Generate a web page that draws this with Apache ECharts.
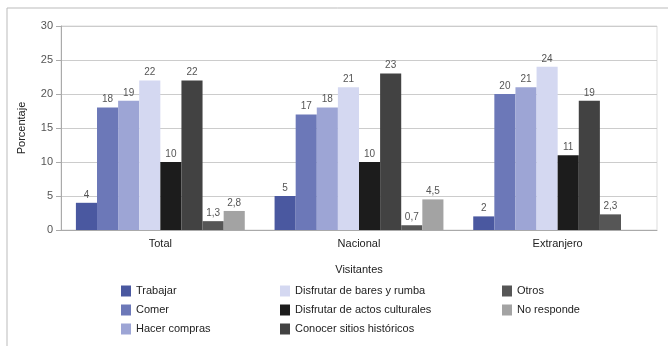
<!DOCTYPE html>
<html>
<head>
<meta charset="utf-8">
<script src="https://cdn.jsdelivr.net/npm/echarts@6/dist/echarts.min.js"></script>
<style>
html, body { margin: 0; padding: 0; background: #fff; }
#main { width: 668px; height: 346px; }
</style>
</head>
<body>
<div id="main"></div>
<script>
// datos
var categorias = ['Total', 'Nacional', 'Extranjero'];
var trabajar = [4, 5, 2];
var comer = [18, 17, 20];
var hacerCompras = [19, 18, 21];
var bares = [22, 21, 24];
var actosCulturales = [10, 10, 11];
var sitiosHistoricos = [22, 23, 19];
var otros = [1.3, 0.7, 2.3];
var noResponde = [2.8, 4.5, null];
var ticksY = [0, 5, 10, 15, 20, 25, 30];

var fuente = 'Liberation Sans, Arial, sans-serif';

function serie(nombre, datos, color) {
	return {
		name: nombre,
		type: 'bar',
		data: datos,
		barGap: 0,
		barCategoryGap: '15%',
		itemStyle: { color: color },
		label: {
			show: true,
			position: 'top',
			distance: 3,
			fontFamily: fuente,
			fontSize: 10,
			color: '#555',
			formatter: function (p) {
				return String(p.value).replace('.', ',');
			}
		}
	};
}

function leyenda(left, nombres) {
	return {
		orient: 'vertical',
		left: left,
		top: 280,
		itemWidth: 10,
		itemHeight: 11,
		itemGap: 7,
		icon: 'rect',
		data: nombres,
		textStyle: { fontFamily: fuente, fontSize: 11, color: '#222', lineHeight: 12 }
	};
}

var chart = echarts.init(document.getElementById('main'));

var option = {
	animation: false,
	graphic: [
		{ type: 'line', shape: { x1: 7, y1: 8, x2: 668, y2: 8 }, style: { stroke: '#bbb', lineWidth: 1 } },
		{ type: 'line', shape: { x1: 7, y1: 8, x2: 7, y2: 346 }, style: { stroke: '#bbb', lineWidth: 1 } }
	],
	grid: {
		left: 61, right: 11, top: 26, bottom: 116,
		show: true, borderColor: '#ddd', borderWidth: 1
	},
	legend: [
		leyenda(116, ['Trabajar', 'Comer', 'Hacer compras']),
		leyenda(275, ['Disfrutar de bares y rumba', 'Disfrutar de actos culturales', 'Conocer sitios históricos']),
		leyenda(497, ['Otros', 'No responde'])
	],
	xAxis: {
		type: 'category',
		data: categorias,
		name: 'Visitantes',
		nameLocation: 'middle',
		nameGap: 34,
		nameTextStyle: { fontFamily: fuente, fontSize: 11, color: '#222' },
		axisLine: { show: true, lineStyle: { color: '#aaa' } },
		axisTick: { show: false },
		axisLabel: { margin: 8, fontFamily: fuente, fontSize: 11, color: '#222' }
	},
	yAxis: {
		type: 'value',
		min: ticksY[0],
		max: ticksY[ticksY.length - 1],
		interval: 5,
		name: 'Porcentaje',
		nameLocation: 'middle',
		nameRotate: 90,
		nameGap: 34,
		nameTextStyle: { fontFamily: fuente, fontSize: 11, color: '#222' },
		axisLine: { show: true, lineStyle: { color: '#aaa' } },
		axisTick: { show: true, length: 5, lineStyle: { color: '#aaa' } },
		axisLabel: { margin: 8, fontFamily: fuente, fontSize: 11, color: '#555' },
		splitLine: { lineStyle: { color: '#ccc' } }
	},
	series: [
		serie('Trabajar', trabajar, '#4a58a0'),
		serie('Comer', comer, '#6c78b8'),
		serie('Hacer compras', hacerCompras, '#9da5d5'),
		serie('Disfrutar de bares y rumba', bares, '#d4d8f1'),
		serie('Disfrutar de actos culturales', actosCulturales, '#1c1c1c'),
		serie('Conocer sitios históricos', sitiosHistoricos, '#424242'),
		serie('Otros', otros, '#565656'),
		serie('No responde', noResponde, '#a3a3a3')
	]
};

chart.setOption(option);
</script>
</body>
</html>
